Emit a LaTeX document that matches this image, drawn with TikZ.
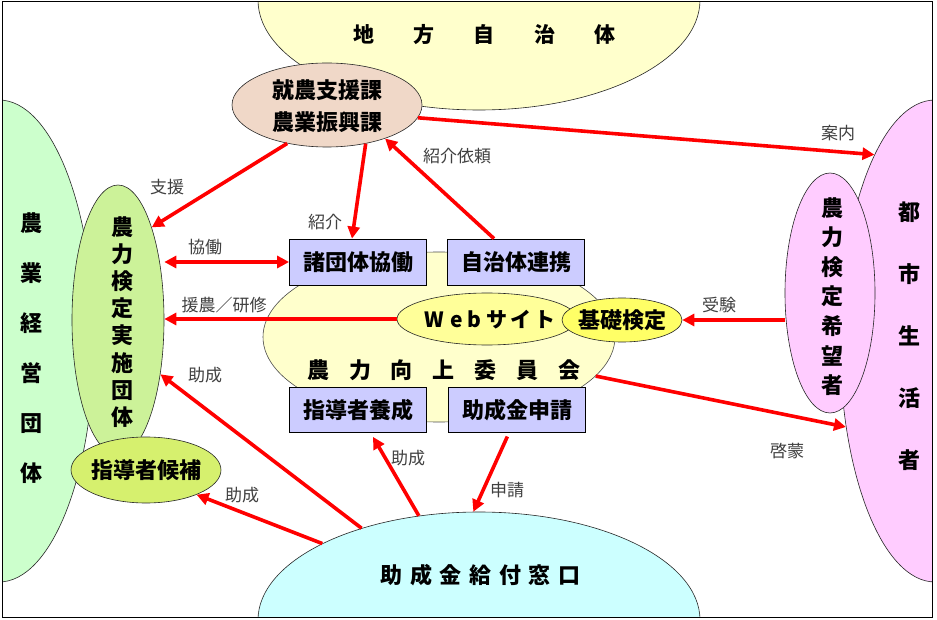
\documentclass[tikz,border=0pt]{standalone}
\usepackage{fontspec}
\setmainfont{Noto Sans CJK JP}
\usetikzlibrary{shapes.geometric,arrows.meta,calc}
\definecolor{cgreen}{RGB}{204,255,204}
\definecolor{clime}{RGB}{204,242,153}
\definecolor{ckouho}{RGB}{214,240,110}
\definecolor{cpink}{RGB}{255,204,255}
\definecolor{cyel}{RGB}{255,255,204}
\definecolor{cweb}{RGB}{255,255,153}
\definecolor{ckiso}{RGB}{255,255,102}
\definecolor{cbeige}{RGB}{240,216,200}
\definecolor{ccyan}{RGB}{204,255,255}
\definecolor{cbox}{RGB}{204,204,255}
\definecolor{cred}{RGB}{255,0,0}
\definecolor{cgray}{RGB}{64,64,64}
\begin{document}
\begin{tikzpicture}[x=1pt,y=-1pt,
  ell/.style={ellipse,draw=black!85,line width=0.6pt,inner sep=0pt},
  boxnode/.style={rectangle,draw=black,line width=0.8pt,fill=cbox,inner sep=0pt,
     minimum width=137pt,minimum height=46pt,font=\fontsize{22}{26}\selectfont\bfseries},
  big/.style={inner sep=0pt,font=\fontsize{22}{26}\selectfont\bfseries},
  lbl/.style={inner sep=0pt,text=cgray,font=\fontsize{17}{20}\selectfont},
  rarrow/.style={draw=cred,line width=3.6pt,-{Triangle[length=12pt,width=12pt]}},
  rarrowboth/.style={draw=cred,line width=3.6pt,{Triangle[length=12pt,width=12pt]}-{Triangle[length=12pt,width=12pt]}}
]
\useasboundingbox (0,0) rectangle (937,620);
\fill[white] (0,0) rectangle (937,620);
\begin{scope}
\clip (2,2) rectangle (932,617);
% left
\node[ell,fill=cgreen,minimum width=190pt,minimum height=482pt] (keiei) at (-1,341) {};
\node[ell,fill=clime,minimum width=92pt,minimum height=270pt] (jisshi) at (118,320) {};
\node[ell,fill=ckouho,minimum width=150pt,minimum height=66pt] (kouho) at (146,470) {};
% right
\node[ell,fill=cpink,minimum width=190pt,minimum height=482pt] (toshi) at (935,341) {};
\node[ell,fill=cpink,minimum width=90pt,minimum height=240pt] (kibou) at (830,293) {};
% top
\node[ell,fill=cyel,minimum width=442pt,minimum height=220pt] (jiti) at (479,0) {};
\node[ell,fill=cbeige,minimum width=190pt,minimum height=84pt] (shuno) at (327,105) {};
% center
\node[ell,fill=cyel,draw=black!70,minimum width=352pt,minimum height=170pt] (iinkai) at (439,337) {};
\node[boxnode] (kyodo) at (358,262) {諸団体協働};
\node[boxnode] (renkei) at (516,262) {自治体連携};
\node[boxnode,minimum height=45pt] (yosei) at (358,410) {指導者養成};
\node[boxnode,minimum height=45pt] (shinsei) at (517,410) {助成金申請};
\node[ell,fill=cweb,minimum width=180pt,minimum height=52pt] (web) at (487,319) {};
\node[ell,fill=ckiso,minimum width=120pt,minimum height=44pt] (kiso) at (622,320) {};
% bottom
\node[ell,fill=ccyan,minimum width=442pt,minimum height=216pt] (mado) at (479,620) {};
\end{scope}

% texts
\node[big,font=\fontsize{21}{26}\selectfont\bfseries] (tjiti) at (484.5,35) {地\hspace{39.5pt}方\hspace{39.5pt}自\hspace{39.5pt}治\hspace{39.5pt}体};
\node[big,align=center,font=\fontsize{22}{32}\selectfont\bfseries] (tshuno) at (327,106) {就農支援課\\農業振興課};
\node[big,align=center,font=\fontsize{22}{50}\selectfont\bfseries] (tkeiei) at (31,348) {農\\業\\経\\営\\団\\体};
\node[big,align=center,font=\fontsize{22}{27.1}\selectfont\bfseries] (tjisshi) at (122,322) {農\\力\\検\\定\\実\\施\\団\\体};
\node[big] (tkouho) at (146,470) {指導者候補};
\node[big,align=center,font=\fontsize{22}{62}\selectfont\bfseries] (ttoshi) at (909,336) {都\\市\\生\\活\\者};
\node[big,align=center,font=\fontsize{22}{29.6}\selectfont\bfseries] (tkibou) at (832,296.5) {農\\力\\検\\定\\希\\望\\者};
\node[big,font=\fontsize{21}{26}\selectfont\bfseries] (tweb) at (490,320) {W\hspace{6pt}e\hspace{5pt}b\hspace{5pt}サ\hspace{3pt}イ\hspace{3pt}ト};
\node[big] (tkiso) at (622,320) {基礎検定};
\node[big] (tiinkai) at (444,370) {農\hspace{20pt}力\hspace{20pt}向\hspace{20pt}上\hspace{20pt}委\hspace{20pt}員\hspace{20pt}会};
\node[big] (tmado) at (480.5,575) {助\hspace{7.6pt}成\hspace{7.6pt}金\hspace{7.6pt}給\hspace{7.6pt}付\hspace{7.6pt}窓\hspace{7.6pt}口};

% arrows
\draw[rarrow] (shuno.-136) -- (jisshi.70);
\draw[rarrow] (shuno.-45) -- ([xshift=-6pt]kyodo.north);
\draw[rarrow] ([xshift=-22pt]renkei.north) -- (shuno.-30);
\draw[rarrow] (shuno.-8) -- (toshi.108);
\draw[rarrowboth] (kyodo.west -| jisshi.east) -- (kyodo.west);
\draw[rarrow] (web.west) -- (web.west -| jisshi.east);
\draw[rarrow] (kiso.east -| kibou.west) -- (kiso.east);
\draw[rarrow] (iinkai.-14) -- (toshi.224);
\draw[rarrow,shorten <=4pt] ([xshift=-8pt]shinsei.south) -- (mado.93.6);
\draw[rarrow] (mado.120) -- ([xshift=15pt,yshift=-4pt]yosei.south);
\draw[rarrow] (mado.142.5) -- (jisshi.-52);
\draw[rarrow] (mado.154) -- (kouho.-26);

% arrow labels
\node[lbl] (l1) at (167,187) {支援};
\node[lbl] (l2) at (325,222) {紹介};
\node[lbl] (l3) at (457,156) {紹介依頼};
\node[lbl] (l4) at (838,133) {案内};
\node[lbl] (l5) at (205,247) {協働};
\node[lbl] (l6) at (224,305) {援農／研修};
\node[lbl] (l7) at (719,305) {受験};
\node[lbl] (l8) at (787,451) {啓蒙};
\node[lbl] (l9) at (507,490) {申請};
\node[lbl] (l10) at (408,458) {助成};
\node[lbl] (l11) at (205,375) {助成};
\node[lbl] (l12) at (242,495) {助成};

% frame
\draw[line width=1pt] (2,2) rectangle (932,617);
\end{tikzpicture}
\end{document}
